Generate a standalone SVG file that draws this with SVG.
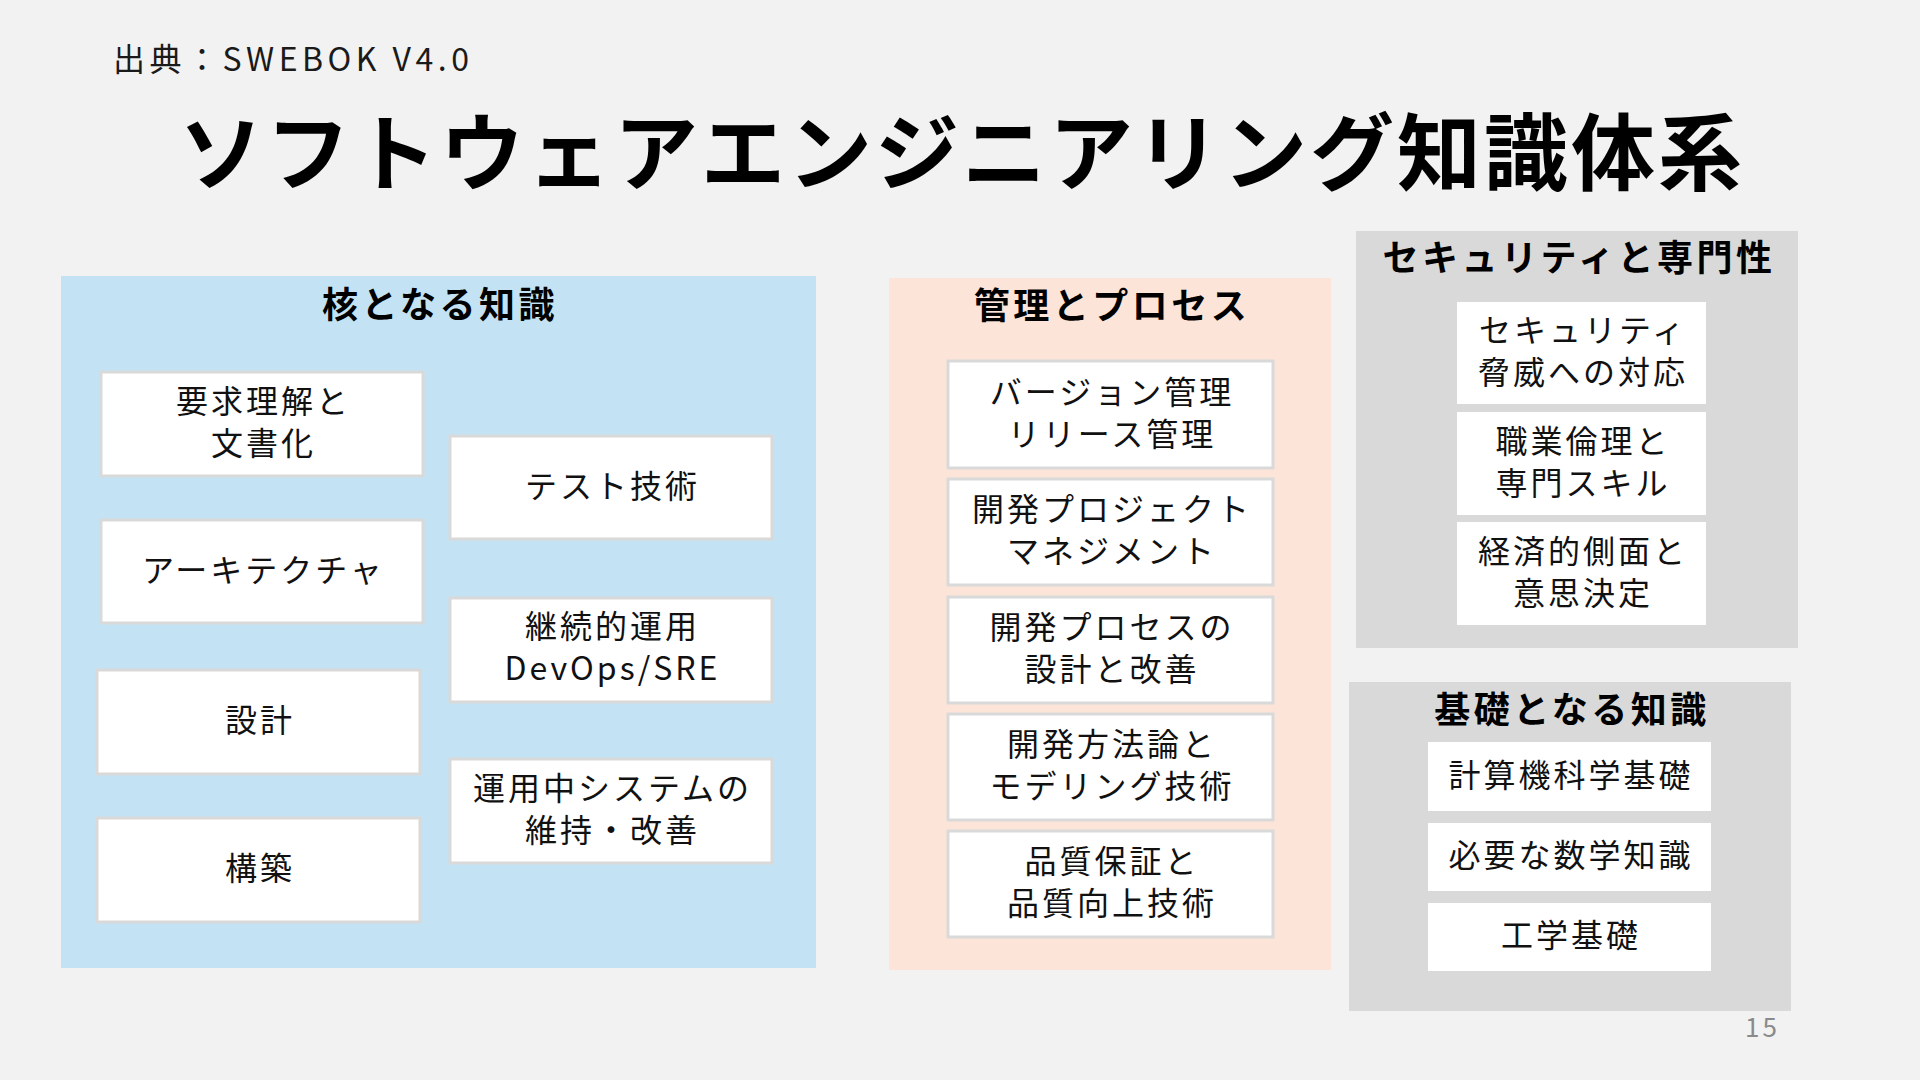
<svg xmlns="http://www.w3.org/2000/svg" width="1920" height="1080" viewBox="0 0 1920 1080">
<style>
  text { font-family: "Noto Sans CJK JP", "Noto Sans", sans-serif; fill: #111; dominant-baseline: central; text-anchor: middle; }
  .title { font-size: 84px; font-weight: 700; letter-spacing: 3px; fill: #000; }
  .src { font-size: 32px; text-anchor: start; letter-spacing: 4.5px; fill: #1a1a1a; }
  .head { font-size: 36px; font-weight: 700; letter-spacing: 3.5px; fill: #000; }
  .lbl { font-size: 32px; letter-spacing: 3px; }
  .pg { font-size: 26px; fill: #8a8a8a; text-anchor: start; letter-spacing: 3px; }
  .box { fill: #ffffff; stroke: #d9d9d9; stroke-width: 3; }
  .gbox { fill: #ffffff; }
</style>
<rect x="0" y="0" width="1920" height="1080" fill="#f2f2f2"/>
<text class="src" x="113" y="57">出典：SWEBOK V4.0</text>
<text class="title" x="962" y="147">ソフトウェアエンジニアリング知識体系</text>

<g id="core">
  <rect x="61" y="276" width="755" height="692" fill="#c3e3f4"/>
  <text class="head" x="440" y="302">核となる知識</text>
</g>
<g id="core-req"><rect class="box" x="101" y="372" width="322" height="104"/><text class="lbl" x="263.5" y="399">要求理解と</text><text class="lbl" x="263.5" y="441">文書化</text></g>
<g id="core-test"><rect class="box" x="450" y="436" width="322" height="103"/><text class="lbl" x="612.5" y="483.5">テスト技術</text></g>
<g id="core-arch"><rect class="box" x="101" y="520" width="322" height="103"/><text class="lbl" x="263.5" y="567.5">アーキテクチャ</text></g>
<g id="core-devops"><rect class="box" x="450" y="598" width="322" height="104"/><text class="lbl" x="612.5" y="624">継続的運用</text><text class="lbl" x="612.5" y="666">DevOps/SRE</text></g>
<g id="core-design"><rect class="box" x="97" y="670" width="323" height="104"/><text class="lbl" x="260" y="718">設計</text></g>
<g id="core-maint"><rect class="box" x="450" y="759" width="322" height="104"/><text class="lbl" x="612.5" y="786">運用中システムの</text><text class="lbl" x="612.5" y="828">維持・改善</text></g>
<g id="core-build"><rect class="box" x="97" y="818" width="323" height="104"/><text class="lbl" x="260" y="866">構築</text></g>

<g id="mgmt">
  <rect x="889" y="278" width="442" height="692" fill="#fce4d8"/>
  <text class="head" x="1112" y="303">管理とプロセス</text>
</g>
<g id="mgmt-version"><rect class="box" x="948" y="361" width="325" height="107"/><text class="lbl" x="1112" y="389.5">バージョン管理</text><text class="lbl" x="1112" y="431.5">リリース管理</text></g>
<g id="mgmt-project"><rect class="box" x="948" y="479" width="325" height="106"/><text class="lbl" x="1112" y="507">開発プロジェクト</text><text class="lbl" x="1112" y="549">マネジメント</text></g>
<g id="mgmt-process"><rect class="box" x="948" y="597" width="325" height="106"/><text class="lbl" x="1112" y="625">開発プロセスの</text><text class="lbl" x="1112" y="667">設計と改善</text></g>
<g id="mgmt-method"><rect class="box" x="948" y="714" width="325" height="106"/><text class="lbl" x="1112" y="742">開発方法論と</text><text class="lbl" x="1112" y="784">モデリング技術</text></g>
<g id="mgmt-quality"><rect class="box" x="948" y="831" width="325" height="106"/><text class="lbl" x="1112" y="859">品質保証と</text><text class="lbl" x="1112" y="901">品質向上技術</text></g>

<g id="sec">
  <rect x="1356" y="231" width="442" height="417" fill="#d9d9d9"/>
  <text class="head" x="1579" y="255">セキュリティと専門性</text>
</g>
<g id="sec-threat"><rect class="gbox" x="1457" y="302" width="249" height="102"/><text class="lbl" x="1583" y="328">セキュリティ</text><text class="lbl" x="1583" y="370">脅威への対応</text></g>
<g id="sec-ethics"><rect class="gbox" x="1457" y="412" width="249" height="103"/><text class="lbl" x="1583" y="438.5">職業倫理と</text><text class="lbl" x="1583" y="480.5">専門スキル</text></g>
<g id="sec-econ"><rect class="gbox" x="1457" y="522" width="249" height="103"/><text class="lbl" x="1583" y="548.5">経済的側面と</text><text class="lbl" x="1583" y="590.5">意思決定</text></g>

<g id="found">
  <rect x="1349" y="682" width="442" height="329" fill="#d9d9d9"/>
  <text class="head" x="1572" y="707">基礎となる知識</text>
</g>
<g id="found-cs"><rect class="gbox" x="1428" y="742" width="283" height="69"/><text class="lbl" x="1571" y="772.5">計算機科学基礎</text></g>
<g id="found-math"><rect class="gbox" x="1428" y="823" width="283" height="68"/><text class="lbl" x="1571" y="853">必要な数学知識</text></g>
<g id="found-eng"><rect class="gbox" x="1428" y="903" width="283" height="68"/><text class="lbl" x="1571" y="933">工学基礎</text></g>

<g id="connectors"></g>
<text class="pg" x="1745" y="1025">15</text>
</svg>
